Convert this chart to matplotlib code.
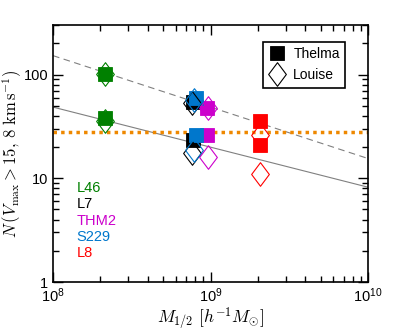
import matplotlib
matplotlib.use("Agg")
import matplotlib.pyplot as plt
import numpy as np
from matplotlib.path import Path
from matplotlib.ticker import FuncFormatter, LogLocator, NullFormatter

plt.rcParams['font.family'] = ['Liberation Sans', 'DejaVu Sans']
plt.rcParams['mathtext.fontset'] = 'custom'
plt.rcParams['mathtext.rm'] = 'Liberation Sans'
plt.rcParams['mathtext.it'] = 'Liberation Sans:italic'

# data
sims = ["L46", "L7", "THM2", "S229", "L8"]
colors = ["#008000", "#000000", "#cc00cc", "#0077cc", "#ff0000"]
m_half = [2.15e8, 7.7e8, 9.5e8, 8.1e8, 2.05e9]
thelma_hi = [102, 54, 48, 59, 36]
thelma_lo = [38, 23.5, 26, 26, 21]
louise_x = [2.15e8, 7.6e8, 9.6e8, 7.9e8, 2.05e9]
louise_hi = [102, 53, 48, 57, 26]
louise_lo = [36, 17.7, 16.2, 18.9, 11]
threshold = 28
line_x = [1e8, 1e10]
dashed_y = [152, 15.5]
solid_y = [48.5, 8.2]

diamond = Path([(0, 1), (0.75, 0), (0, -1), (-0.75, 0), (0, 1)],
               [Path.MOVETO, Path.LINETO, Path.LINETO, Path.LINETO, Path.CLOSEPOLY])

fig = plt.figure(figsize=(4.07, 3.30), dpi=100)
ax = fig.add_axes([53/407, 1-282/330, 315/407, 257/330])
ax.set_xscale('log')
ax.set_yscale('log')
ax.set_xlim(1e8, 1e10)
ax.set_ylim(1, 300)

ax.plot(line_x, dashed_y, color='gray', lw=0.8, ls=(0, (6, 4)), zorder=1)
ax.plot(line_x, solid_y, color='gray', lw=0.8, zorder=1)
ax.axhline(threshold, color='#ee8800', lw=2.5, ls=(0, (1, 1.2)), zorder=2)

for i, s in enumerate(sims):
    c = colors[i]
    for yv in (thelma_hi[i], thelma_lo[i]):
        ax.plot([m_half[i]], [yv], marker='s', ms=10, mew=0.6, color=c, ls='none', zorder=3)
    for yv in (louise_hi[i], louise_lo[i]):
        ax.plot([louise_x[i]], [yv], marker=diamond, ms=17, mfc='none', mec=c,
                mew=0.8, ls='none', zorder=4)

# legend
h1, = ax.plot([], [], marker='s', ms=10, mew=0.6, color='black', ls='none')
h2, = ax.plot([], [], marker=diamond, ms=17, mfc='none', mec='black', mew=0.8, ls='none')
leg = ax.legend([h1, h2], ['Thelma', 'Louise'], loc='upper right',
                bbox_to_anchor=(0.95, 0.962), fontsize=10, fancybox=False,
                edgecolor='black', framealpha=1, handletextpad=0.6,
                borderpad=0.4, labelspacing=0.5, handlelength=1.2)
leg.get_frame().set_linewidth(1.2)

for i, s in enumerate(sims):
    ax.text(0.075, 0.365 - i*0.063, s, color=colors[i], fontsize=10.5,
            transform=ax.transAxes, va='center', ha='left')

ax.tick_params(which='both', direction='in', top=True, right=True, labelsize=10.5)
ax.tick_params(which='major', length=7, width=1)
ax.tick_params(which='minor', length=4, width=1)
ax.xaxis.set_major_locator(LogLocator(base=10, numticks=10))
ax.xaxis.set_major_formatter(FuncFormatter(lambda v, p: r'$10^{%d}$' % round(np.log10(v))))
ax.yaxis.set_major_formatter(FuncFormatter(lambda v, p: '%d' % round(v)))
ax.yaxis.set_minor_formatter(NullFormatter())
ax.xaxis.set_minor_formatter(NullFormatter())
for sp in ax.spines.values():
    sp.set_linewidth(1.2)

ax.set_xlabel(r'$M_{1/2}\ [h^{-1}M_{\odot}]$', fontsize=12.5, math_fontfamily='cm')
ax.xaxis.set_label_coords(0.5, -0.09)
ax.set_ylabel(r'$N\,(V_{\rm max} > 15,\,8\ {\rm km\,s^{-1}})$', fontsize=12,
              math_fontfamily='cm')
ax.yaxis.set_label_coords(-0.092, 0.5)

fig.savefig('out.png', dpi=100)
